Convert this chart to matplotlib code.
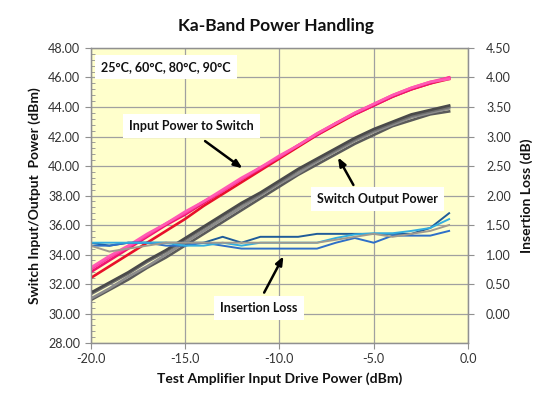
import matplotlib
matplotlib.use("Agg")
import matplotlib.pyplot as plt
from matplotlib.ticker import MultipleLocator, FormatStrFormatter

plt.rcParams['font.family'] = ['Lato', 'DejaVu Sans']

drive = [-20, -19, -18, -17, -16, -15, -14, -13, -12, -11,
         -10, -9, -8, -7, -6, -5, -4, -3, -2, -1]

# Input power to switch (dBm), four temperatures
inp_25 = [32.4, 33.2, 34.0, 34.8, 35.6, 36.4, 37.3, 38.1, 38.9, 39.7,
          40.5, 41.3, 42.1, 42.8, 43.5, 44.1, 44.7, 45.2, 45.6, 45.9]
inp_60 = [32.8, 33.6, 34.4, 35.2, 36.0, 36.7, 37.5, 38.3, 39.1, 39.8,
          40.6, 41.4, 42.1, 42.9, 43.5, 44.1, 44.7, 45.2, 45.6, 46.0]
inp_80 = [33.0, 33.8, 34.5, 35.3, 36.1, 36.8, 37.6, 38.3, 39.1, 39.9,
          40.6, 41.4, 42.2, 42.9, 43.6, 44.2, 44.8, 45.3, 45.7, 46.0]
inp_90 = [33.1, 33.9, 34.6, 35.4, 36.1, 36.9, 37.6, 38.4, 39.2, 39.9,
          40.7, 41.4, 42.2, 42.9, 43.6, 44.2, 44.8, 45.3, 45.7, 45.9]

# Switch output power (dBm)
out_25 = [30.9, 31.6, 32.3, 33.1, 33.8, 34.6, 35.4, 36.2, 37.0, 37.8,
          38.6, 39.4, 40.1, 40.8, 41.5, 42.1, 42.7, 43.1, 43.5, 43.7]
out_60 = [31.0, 31.7, 32.5, 33.2, 34.0, 34.8, 35.6, 36.4, 37.2, 38.0,
          38.8, 39.5, 40.3, 41.0, 41.7, 42.3, 42.8, 43.3, 43.6, 43.9]
out_80 = [31.3, 32.0, 32.7, 33.5, 34.2, 35.0, 35.8, 36.6, 37.4, 38.1,
          38.9, 39.7, 40.4, 41.1, 41.8, 42.4, 42.9, 43.4, 43.7, 44.0]
out_90 = [31.4, 32.1, 32.8, 33.6, 34.3, 35.1, 35.9, 36.7, 37.5, 38.2,
          39.0, 39.8, 40.5, 41.2, 41.9, 42.5, 43.0, 43.5, 43.8, 44.1]

# Insertion loss (dB)
il_a = [1.20, 1.15, 1.20, 1.20, 1.20, 1.20, 1.20, 1.30, 1.20, 1.30,
        1.30, 1.30, 1.35, 1.35, 1.35, 1.35, 1.35, 1.35, 1.45, 1.70]
il_b = [1.15, 1.15, 1.20, 1.20, 1.15, 1.15, 1.20, 1.15, 1.10, 1.10,
        1.10, 1.10, 1.10, 1.20, 1.28, 1.20, 1.32, 1.32, 1.32, 1.40]
il_c = [1.20, 1.20, 1.20, 1.20, 1.20, 1.15, 1.15, 1.20, 1.15, 1.20,
        1.20, 1.20, 1.20, 1.28, 1.34, 1.36, 1.36, 1.40, 1.45, 1.60]
il_d = [1.15, 1.05, 1.10, 1.15, 1.20, 1.20, 1.20, 1.20, 1.20, 1.20,
        1.20, 1.20, 1.20, 1.25, 1.30, 1.35, 1.30, 1.35, 1.40, 1.50]

fig = plt.figure(figsize=(5.53, 3.96), dpi=100)
ax = fig.add_axes([0.1637, 0.1338, 0.6826, 0.7450])
ax.set_facecolor('#FFFFCC')

for y, c in [(out_25, '#5A5A5A'), (out_60, '#8C8C8C'), (out_80, '#6E6E6E'), (out_90, '#4A4A4A')]:
    ax.plot(drive, y, color=c, lw=1.9, zorder=3)
for y, c in [(inp_25, '#E8102A'), (inp_60, '#F0146E'), (inp_80, '#FF3C9E'), (inp_90, '#FF5AB4')]:
    ax.plot(drive, y, color=c, lw=1.9, zorder=3)

ax.set_xlim(-20, 0)
ax.set_ylim(28, 48)
ax.xaxis.set_major_locator(MultipleLocator(5))
ax.xaxis.set_major_formatter(FormatStrFormatter('%.1f'))
ax.yaxis.set_major_locator(MultipleLocator(2))
ax.yaxis.set_minor_locator(MultipleLocator(0.4))
ax.yaxis.set_major_formatter(FormatStrFormatter('%.2f'))
ax.grid(True, which='major', color='#A0A0A0', lw=0.9, zorder=1)
ax.set_axisbelow(True)
for s in ax.spines.values():
    s.set_color('#909090')
    s.set_linewidth(0.9)
ax.tick_params(axis='both', which='major', labelsize=9, colors='#909090',
               labelcolor='#333333', length=4, direction='out')
ax.tick_params(axis='y', which='minor', length=3, direction='in', colors='#909090')

ax2 = ax.twinx()
for y, c in [(il_a, '#1F5C99'), (il_b, '#2E6FC8'), (il_c, '#33AEE0'), (il_d, '#A09A90')]:
    ax2.plot(drive, y, color=c, lw=1.4, zorder=2)
ax2.set_ylim(-0.5, 4.5)
ax2.set_yticks([0, 0.5, 1.0, 1.5, 2.0, 2.5, 3.0, 3.5, 4.0, 4.5])
ax2.yaxis.set_major_formatter(FormatStrFormatter('%.2f'))
for s in ax2.spines.values():
    s.set_color('#909090')
    s.set_linewidth(0.9)
ax2.tick_params(axis='y', labelsize=9, colors='#909090', labelcolor='#333333',
                length=4, direction='out', pad=9)

lab = dict(fontsize=10, fontweight='bold', color='#111111')
ax.set_xlabel('Test Amplifier Input Drive Power (dBm)', labelpad=5, **lab)
ax.set_ylabel('Switch Input/Output  Power (dBm)', labelpad=5, **lab)
ax2.set_ylabel('Insertion Loss (dB)', labelpad=7, **lab)
fig.text(0.499, 0.935, 'Ka-Band Power Handling', ha='center', va='center',
         fontsize=12.5, fontweight='bold', color='#111111')

box = dict(boxstyle='square,pad=0.5', fc='white', ec='none')
ann = dict(fontsize=9, fontweight='bold', color='#111111', ha='center', va='center',
           bbox=box, zorder=6)
ax.text(-16.0, 46.7, '25°C, 60°C, 80°C, 90°C', **ann)
ax.text(-14.65, 42.7, 'Input Power to Switch', **ann)
ax.text(-4.79, 37.76, 'Switch Output Power', **ann)
ax.text(-11.08, 30.37, 'Insertion Loss', **ann)

arr = dict(arrowstyle='-|>,head_length=0.5,head_width=0.2', color='black', lw=1.8)
ax.annotate('', xy=(-11.83, 39.73), xytext=(-14.05, 41.8), arrowprops=arr, zorder=7)
ax.annotate('', xy=(-6.96, 40.75), xytext=(-6.0, 38.55), arrowprops=arr, zorder=7)
ax.annotate('', xy=(-9.71, 34.05), xytext=(-10.87, 31.25), arrowprops=arr, zorder=7)

fig.savefig('out.png', dpi=100)
